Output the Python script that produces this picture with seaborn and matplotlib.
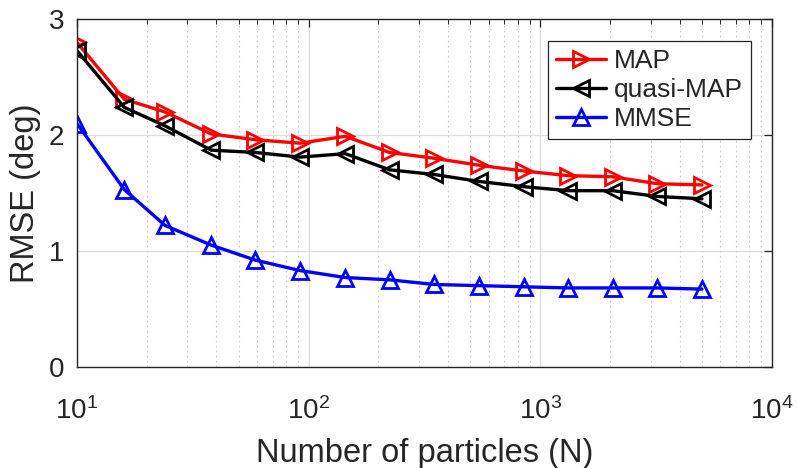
import numpy as np
import pandas as pd
import matplotlib
matplotlib.use("Agg")
import matplotlib.pyplot as plt
import seaborn as sns
from matplotlib.ticker import LogLocator, NullFormatter, FixedLocator

sns.set_theme(style="white")
plt.rcParams['font.family'] = ['Liberation Sans', 'DejaVu Sans']
plt.rcParams['mathtext.fontset'] = 'custom'
plt.rcParams['mathtext.rm'] = 'Liberation Sans'

N = [10, 16, 24, 38, 59, 92, 144, 224, 349, 544, 848, 1322, 2061, 3213, 5000]
rmse_map = [2.80, 2.31, 2.20, 2.01, 1.96, 1.93, 1.99, 1.85, 1.80, 1.74, 1.69, 1.65, 1.64, 1.58, 1.57]
rmse_qmap = [2.73, 2.24, 2.08, 1.87, 1.85, 1.81, 1.84, 1.70, 1.66, 1.60, 1.555, 1.52, 1.52, 1.47, 1.45]
rmse_mmse = [2.10, 1.53, 1.22, 1.05, 0.92, 0.83, 0.77, 0.75, 0.71, 0.70, 0.69, 0.68, 0.68, 0.68, 0.67]

series = [
    ("MAP", rmse_map, "red", ">"),
    ("quasi-MAP", rmse_qmap, "black", "<"),
    ("MMSE", rmse_mmse, "blue", "^"),
]

fig = plt.figure(figsize=(7.97, 4.68), dpi=100)
ax = fig.add_axes([0.0966, 0.2165, 0.8716, 0.7422])

for name, vals, col, mk in series:
    df = pd.DataFrame({"N": N, "RMSE": vals})
    sns.lineplot(data=df, x="N", y="RMSE", ax=ax, color=col, marker=mk,
                 markersize=11.5, markeredgewidth=2.0, markerfacecolor="none",
                 markeredgecolor=col, linewidth=2.4, label=name)

ax.set_xscale("log")
ax.set_xlim(10, 1e4)
ax.set_ylim(0, 3)
ax.yaxis.set_major_locator(FixedLocator([0, 1, 2, 3]))
ax.xaxis.set_major_locator(LogLocator(base=10, numticks=10))
ax.xaxis.set_minor_locator(LogLocator(base=10, subs=np.arange(2, 10), numticks=10))
ax.xaxis.set_minor_formatter(NullFormatter())

ax.grid(True, which="major", color="#dcdcdc", linestyle="-", linewidth=0.9)
ax.grid(True, which="minor", axis="x", color="#c8c8c8", linestyle=(0, (1.5, 3)), linewidth=0.8)
ax.set_axisbelow(True)

for s in ax.spines.values():
    s.set_color("#262626")
    s.set_linewidth(1.0)
    s.set_visible(True)

ax.tick_params(which="both", direction="in", top=True, right=True, colors="#262626",
               labelsize=20)
ax.tick_params(axis="x", which="both", pad=22)
ax.tick_params(axis="y", which="both", pad=9)
ax.tick_params(which="major", length=6, width=0.9)
ax.tick_params(which="minor", length=3.5, width=0.7)
for lbl in ax.get_xticklabels() + ax.get_yticklabels():
    lbl.set_color("#262626")

ax.set_xlabel("Number of particles (N)", fontsize=23.5, color="#262626", labelpad=9)
ax.set_ylabel("RMSE (deg)", fontsize=23.5, color="#262626", labelpad=6)

leg = ax.legend(loc="upper right", bbox_to_anchor=(0.970, 0.938), fontsize=19,
                frameon=True, fancybox=False, edgecolor="#262626", framealpha=1,
                handlelength=1.9, handletextpad=0.3, labelspacing=0.2,
                borderpad=0.3, borderaxespad=0)
leg.get_frame().set_linewidth(0.9)

fig.savefig("out.png", dpi=100)
